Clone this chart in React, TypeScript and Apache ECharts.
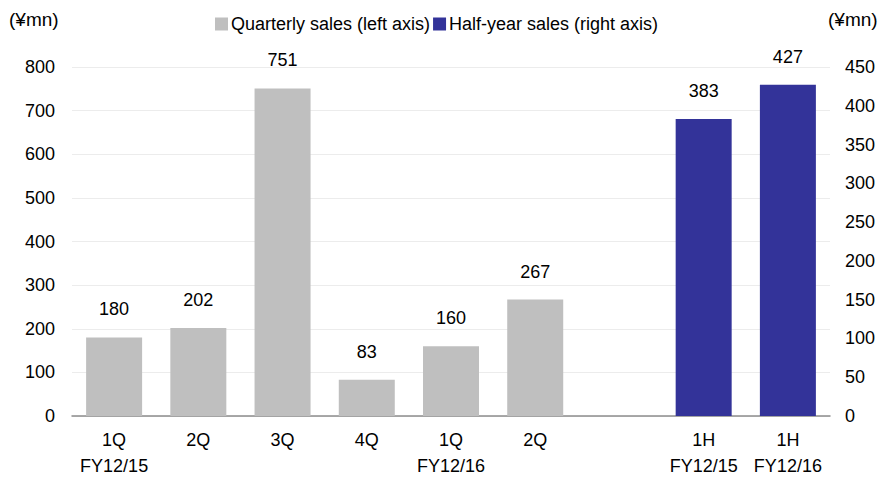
import React, { useEffect, useRef } from "react";
import * as echarts from "echarts";

const categories = [
  "1Q\nFY12/15",
  "2Q",
  "3Q",
  "4Q",
  "1Q\nFY12/16",
  "2Q",
  "",
  "1H\nFY12/15",
  "1H\nFY12/16",
];
const quarterlySales: (number | string)[] = [180, 202, 751, 83, 160, 267, "-", "-", "-"];
const halfYearSales: (number | string)[] = ["-", "-", "-", "-", "-", "-", "-", 383, 427];
const leftTicks = { min: 0, max: 800, interval: 100 };
const rightTicks = { min: 0, max: 450, interval: 50 };

const FONT = "'Liberation Sans', Arial, sans-serif";
const TEXT = "#000";

export default function App() {
  const ref = useRef<HTMLDivElement>(null);
  useEffect(() => {
    if (!ref.current) return;
    const chart = echarts.init(ref.current, undefined, { renderer: "svg" });
    const labelStyle = {
      show: true,
      position: "top" as const,
      distance: 19,
      color: TEXT,
      fontSize: 18,
      fontFamily: FONT,
    };
    chart.setOption({
      animation: false,
      backgroundColor: "#fff",
      textStyle: { fontFamily: FONT },
      grid: { left: 72, right: 53, top: 67, bottom: 60, containLabel: false },
      legend: {
        top: 10,
        left: 210,
        itemWidth: 13,
        itemHeight: 13,
        itemGap: 3,
        icon: "rect",
        textStyle: { fontSize: 18, color: TEXT, fontFamily: FONT, padding: [0, 0, 0, -2] },
        data: ["Quarterly sales (left axis)", "Half-year sales (right axis)"],
      },
      graphic: [
        { type: "text", left: 9, top: 10, style: { text: "(¥mn)", fontSize: 19, fill: TEXT, fontFamily: FONT } },
        { type: "text", left: 828, top: 10, style: { text: "(¥mn)", fontSize: 19, fill: TEXT, fontFamily: FONT } },
      ],
      xAxis: {
        type: "category",
        data: categories,
        axisLine: { lineStyle: { color: "#8c8c8c", width: 1.5 } },
        axisTick: { show: false },
        axisLabel: {
          color: TEXT,
          fontSize: 18,
          fontFamily: FONT,
          lineHeight: 26,
          margin: 11,
          interval: 0,
        },
      },
      yAxis: [
        {
          type: "value",
          ...leftTicks,
          axisLine: { show: false },
          axisTick: { show: false },
          splitLine: { lineStyle: { color: "#ececec", width: 1 } },
          axisLabel: { color: TEXT, fontSize: 18, fontFamily: FONT, margin: 17 },
        },
        {
          type: "value",
          ...rightTicks,
          axisLine: { show: false },
          axisTick: { show: false },
          splitLine: { show: false },
          axisLabel: { color: TEXT, fontSize: 18, fontFamily: FONT, margin: 15 },
        },
      ],
      series: [
        {
          name: "Quarterly sales (left axis)",
          type: "bar",
          yAxisIndex: 0,
          data: quarterlySales,
          barWidth: 56,
          barGap: "-100%",
          itemStyle: { color: "#bfbfbf" },
          label: labelStyle,
        },
        {
          name: "Half-year sales (right axis)",
          type: "bar",
          yAxisIndex: 1,
          data: halfYearSales,
          barWidth: 56,
          itemStyle: { color: "#333399" },
          label: labelStyle,
        },
      ],
    });
    return () => chart.dispose();
  }, []);
  return (
    <div
      ref={ref}
      style={{ position: "absolute", left: 0, top: 0, width: 883, height: 479 }}
    />
  );
}
